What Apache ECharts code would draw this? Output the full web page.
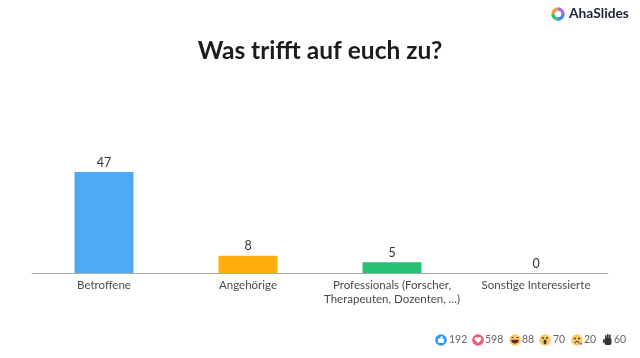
<!DOCTYPE html>
<html><head><meta charset="utf-8">
<style>html,body{margin:0;padding:0;background:#fff}#c{width:640px;height:358px}</style>
<script src="https://cdn.jsdelivr.net/npm/echarts@6/dist/echarts.min.js"></script>
</head><body><div id="c"></div>
<script>
const titleText = 'Was trifft auf euch zu?';
const brandText = 'AhaSlides';
const categories = ['Betroffene','Angehörige','Professionals (Forscher,\nTherapeuten, Dozenten, ...)','Sonstige Interessierte'];
const values = [47,8,5,0];
const barColors = ['#4dabf5','#ffae0a','#26c172','#cccccc'];
const reactionCounts = ['192','598','88','70','20','60'];
const reactionTextX = [449,485,522,553,584,614];
const font = 'Lato, "Noto Sans", sans-serif';
const chart = echarts.init(document.getElementById('c'), null, {renderer:'canvas'});

function txt(x,y,t){return {type:'text',x,y,style:{text:t,fill:'#666',font:'10.5px '+font,textVerticalAlign:'middle',textBaseline:'middle'}};}
function circ(x,y,r,c){return {type:'circle',shape:{cx:x,cy:y,r},style:{fill:c}};}
function arc(cx,cy,s,e,c){return {type:'arc',shape:{cx,cy,r:5,startAngle:s,endAngle:e},style:{stroke:c,lineWidth:3.4,fill:null}};}
const Y=340;
const gfx=[
  // logo
  arc(558,14,Math.PI*1.0,Math.PI*1.5,'#f5a13c'),
  arc(558,14,Math.PI*1.5,Math.PI*2.0,'#a56ee0'),
  arc(558,14,0,Math.PI*0.6,'#3f8ef0'),
  arc(558,14,Math.PI*0.6,Math.PI*1.0,'#36c07a'),
  {type:'text',x:569,y:14,style:{text:brandText,fill:'#1d2438',font:'bold 13.8px '+font,textBaseline:'middle',textVerticalAlign:'middle'}},
  // like
  circ(441,Y,5.8,'#2f9bf0'),
  {type:'rect',shape:{x:438,y:Y-1.5,width:6,height:4.5,r:1},style:{fill:'#fff'}},
  {type:'polygon',shape:{points:[[440,Y-1.5],[441.3,Y-4.2],[442.6,Y-3.5],[442.4,Y-1]]},style:{fill:'#fff'}},
  // heart
  circ(478,Y,5.8,'#f0566f'),
  circ(476.4,Y-1.2,1.9,'#fff'),circ(479.6,Y-1.2,1.9,'#fff'),
  {type:'polygon',shape:{points:[[474.7,Y-0.4],[481.3,Y-0.4],[478,Y+3.2]]},style:{fill:'#fff'}},
  // grin
  circ(515,Y,5.8,'#fac864'),
  {type:'rect',shape:{x:511.5,y:Y-3,width:2,height:1,r:.5},style:{fill:'#333'}},
  {type:'rect',shape:{x:516.5,y:Y-3,width:2,height:1,r:.5},style:{fill:'#333'}},
  {type:'sector',shape:{cx:515,cy:Y-0.3,r:3.8,startAngle:0,endAngle:Math.PI},style:{fill:'#6b2a2a'}},
  // wow
  circ(545,Y,5.8,'#fac864'),
  circ(543,Y-2,.9,'#333'),circ(547,Y-2,.9,'#333'),
  {type:'ellipse',shape:{cx:545,cy:Y+1.8,rx:1.5,ry:2.4},style:{fill:'#4a2a2a'}},
  // sad
  circ(577,Y,5.8,'#fac864'),
  circ(575,Y-1.5,.9,'#333'),circ(579,Y-1.5,.9,'#333'),
  {type:'arc',shape:{cx:577,cy:Y+3.4,r:2,startAngle:Math.PI,endAngle:Math.PI*2},style:{stroke:'#4a2a2a',lineWidth:1,fill:null}},
  circ(581,Y+3.6,1.2,'#4a90d9'),
  // hand
  {type:'rect',shape:{x:604.5,y:Y-2,width:7,height:7,r:2},style:{fill:'#333'}},
  {type:'rect',shape:{x:605,y:Y-5,width:1.6,height:5,r:.8},style:{fill:'#333'}},
  {type:'rect',shape:{x:607,y:Y-6,width:1.6,height:5,r:.8},style:{fill:'#333'}},
  {type:'rect',shape:{x:609,y:Y-5.5,width:1.6,height:5,r:.8},style:{fill:'#333'}},
  {type:'rect',shape:{x:603,y:Y-1,width:1.6,height:4,r:.8,},style:{fill:'#333'}}
];
reactionCounts.forEach((t,i)=>gfx.push(txt(reactionTextX[i],Y,t)));

chart.setOption({
  animation:false,
  backgroundColor:'#fff',
  title:{text:titleText,left:'center',top:34,textStyle:{fontFamily:font,fontWeight:'bold',fontSize:24.5,color:'#1d1d1d'}},
  grid:{left:32,right:32,top:172,height:101},
  xAxis:{type:'category',data:categories,
    axisLine:{lineStyle:{color:'#aaaaaa',width:1}},axisTick:{show:false},
    axisLabel:{interval:0,color:'#4a4a4a',fontFamily:font,fontSize:11.5,margin:5,lineHeight:14}},
  yAxis:{type:'value',min:0,max:47,show:false,splitLine:{show:false}},
  series:[{type:'bar',barWidth:59,
    data:values.map((v,i)=>({value:v,itemStyle:{color:barColors[i]}})),
    label:{show:true,position:'top',distance:3,color:'#333',fontFamily:font,fontSize:12.5}}],
  graphic:gfx
});
</script></body></html>
